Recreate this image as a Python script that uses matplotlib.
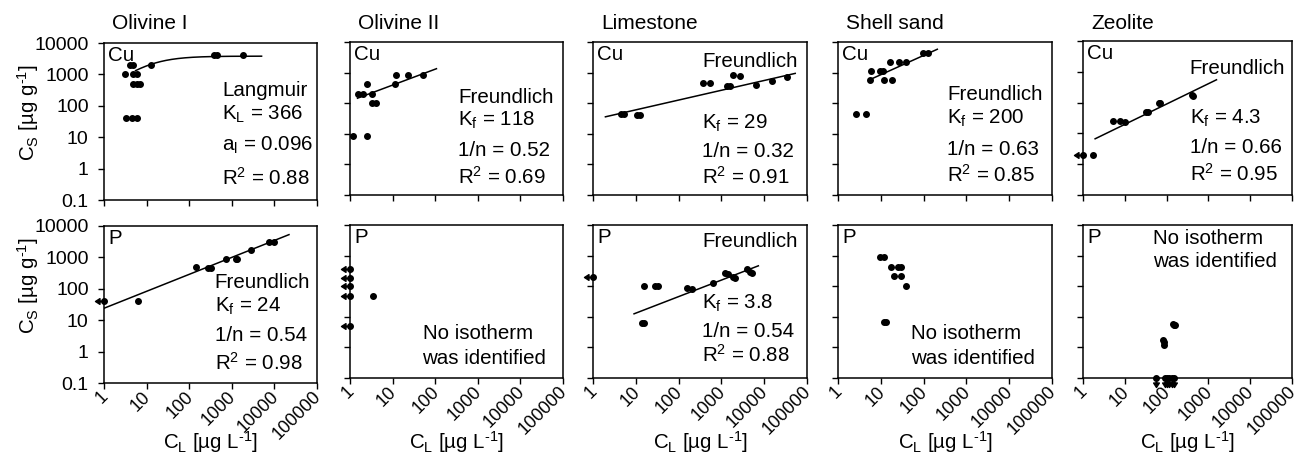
import numpy as np
import matplotlib
matplotlib.use("Agg")
import matplotlib.pyplot as plt
from matplotlib.path import Path
from matplotlib.ticker import FixedLocator, FixedFormatter, NullLocator

plt.rcParams['font.family'] = ['Liberation Sans', 'DejaVu Sans']
plt.rcParams['mathtext.fontset'] = 'custom'
plt.rcParams['mathtext.rm'] = 'Liberation Sans'
plt.rcParams['mathtext.it'] = 'Liberation Sans:italic'
plt.rcParams['mathtext.bf'] = 'Liberation Sans:bold'

# ---------------------------------------------------------------- data
materials = ["Olivine I", "Olivine II", "Limestone", "Shell sand", "Zeolite"]
elements = ["Cu", "P"]
x_ticks = [1, 10, 100, 1000, 10000, 100000]
x_tick_labels = ["1", "10", "100", "1000", "10000", "100000"]
y_ticks = [0.1, 1, 10, 100, 1000, 10000]
y_tick_labels = ["0.1", "1", "10", "100", "1000", "10000"]

# Cu: equilibrium concentration C_L [µg/L] and sorbed amount C_S [µg/g]
cu_olivine1_cl = [3.1, 4.8, 5.9, 4.8, 5.9, 7.0, 3.3, 4.5, 5.9, 4.1, 4.8, 12.7, 380, 450, 1830]
cu_olivine1_cs = [1000, 1000, 1000, 500, 500, 500, 40, 40, 40, 2000, 2000, 2000, 4000, 4000, 4000]
cu_olivine2_cl = [1.15, 2.55, 1.57, 1.98, 2.55, 3.34, 3.2, 4.06, 11.3, 12, 23.3, 50.5]
cu_olivine2_cs = [8.2, 8.2, 200, 200, 416, 200, 100, 100, 416, 820, 820, 820]
cu_limestone_cl = [4.46, 5.3, 10.4, 12.4, 380, 540, 1330, 1600, 1900, 2750, 6400, 15000, 34000]
cu_limestone_cs = [45, 45, 42, 42, 470, 470, 370, 360, 815, 760, 390, 525, 725]
cu_shellsand_cl = [2.7, 4.46, 5.7, 6.0, 9.5, 11, 12, 17.8, 16.3, 27, 38.5, 95, 130]
cu_shellsand_cs = [45, 45, 560, 1130, 1100, 1100, 560, 560, 2240, 2240, 2240, 4500, 4500]
cu_zeolite_cl = [1.72, 5.3, 7.8, 10, 32, 35, 66, 68, 405, 420]
cu_zeolite_cs = [2, 25, 25, 24, 49, 49, 100, 95, 175, 170]

# P: equilibrium concentration C_L [µg/L] and sorbed amount C_S [µg/g]
p_olivine1_cl = [6.2, 144, 270, 320, 720, 1230, 1350, 2770, 7400, 9700]
p_olivine1_cs = [40, 490, 460, 460, 910, 900, 900, 1700, 3150, 3100]
p_olivine2_cl = [3.5]
p_olivine2_cs = [48]
p_limestone_cl = [13.6, 15.6, 15.6, 28, 33, 154, 210, 650, 1220, 1460, 1900, 2100, 3900, 4700, 5200]
p_limestone_cs = [6.5, 6.5, 100, 100, 100, 85, 80, 130, 265, 250, 205, 190, 355, 300, 265]
p_shellsand_cl = [9.4, 11.8, 17.5, 25, 30, 20, 30, 38, 11.8, 13]
p_shellsand_cs = [870, 870, 415, 415, 415, 210, 210, 100, 6.7, 6.7]
p_zeolite_cl = [83, 86, 88, 144, 152, 158]
p_zeolite_cs = [1.8, 1.5, 1.2, 6.0, 5.6, 5.2]

# Values below the detection limit of C_L (left arrows) or C_S (down arrows)
cu_zeolite_cs_below_cl = [2]
p_olivine1_cs_below_cl = [40]
p_olivine2_cs_below_cl = [370, 190, 100, 49, 5]
p_limestone_cs_below_cl = [200]
p_zeolite_cl_below_cs = [56, 91, 100, 115, 132, 149]

# Isotherm parameters
cu_olivine1_langmuir = dict(KL=366, aL=0.096, R2=0.88, cl_range=(5.5, 5000))
cu_olivine2_freundlich = dict(Kf=118, inv_n=0.52, R2=0.69, cl_range=(1.5, 107))
cu_limestone_freundlich = dict(Kf=29, inv_n=0.32, R2=0.91, cl_range=(1.95, 53000))
cu_shellsand_freundlich = dict(Kf=200, inv_n=0.63, R2=0.85, cl_range=(5.3, 209))
cu_zeolite_freundlich = dict(Kf=4.3, inv_n=0.66, R2=0.95, cl_range=(1.95, 1560))
p_olivine1_freundlich = dict(Kf=24, inv_n=0.54, R2=0.98, cl_range=(1, 22000))
p_limestone_freundlich = dict(Kf=3.8, inv_n=0.54, R2=0.88, cl_range=(9.1, 7300))

# ---------------------------------------------------------------- markers
left_arrow = Path([(0, 0), (-0.55, 0), (-1, 0), (-0.5, 0.32), (-0.5, -0.32), (-1, 0)],
                  [Path.MOVETO, Path.LINETO, Path.MOVETO, Path.LINETO, Path.LINETO, Path.CLOSEPOLY])
down_arrow = Path([(0, 0), (0, -0.55), (0, -1), (0.32, -0.5), (-0.32, -0.5), (0, -1)],
                  [Path.MOVETO, Path.LINETO, Path.MOVETO, Path.LINETO, Path.LINETO, Path.CLOSEPOLY])

FS_XTICK = 13
FS_YTICK = 14
FS_TEXT = 14.8
FS_TITLE = 15
DOT = dict(ls='none', marker='o', ms=4, color='black', clip_on=False, zorder=4)
UNIT_CS = r'C$_\mathregular{S}$ [µg g$^\mathregular{\text{-1}}$]'
UNIT_CL = r'C$_\mathregular{L}$ [µg L$^\mathregular{\text{-1}}$]'


def freundlich(p):
    c = np.logspace(np.log10(p['cl_range'][0]), np.log10(p['cl_range'][1]), 200)
    return c, p['Kf'] * c ** p['inv_n']


def langmuir(p):
    c = np.logspace(np.log10(p['cl_range'][0]), np.log10(p['cl_range'][1]), 200)
    return c, p['KL'] * c / (1 + p['aL'] * c)


W, H = 1298, 455
fig = plt.figure(figsize=(W / 100, H / 100), dpi=100)

# panel frames in pixels: (left, right) per column, (top, bottom) per row/column
col_x = [(104, 317), (350, 563), (593, 807), (838, 1052), (1083, 1292)]
row_y = [[(43, 200), (42, 195), (42, 195), (42, 195), (41, 195)],
         [(226, 383), (225, 378), (225, 378), (225, 378), (225, 378)]]
XLABEL_Y = 442
TITLE_Y = 29

axes = {}
for r in range(2):
    for c, (lp, rp) in enumerate(col_x):
        top, bot = row_y[r][c]
        ax = fig.add_axes([lp / W, 1 - bot / H, (rp - lp) / W, (bot - top) / H])
        ax.set_xscale('log')
        ax.set_yscale('log')
        ax.set_xlim(1, 100000)
        ax.set_ylim(0.1, 10000)
        ax.xaxis.set_major_locator(FixedLocator(x_ticks))
        ax.yaxis.set_major_locator(FixedLocator(y_ticks))
        ax.xaxis.set_minor_locator(NullLocator())
        ax.yaxis.set_minor_locator(NullLocator())
        ax.xaxis.set_major_formatter(FixedFormatter(x_tick_labels))
        ax.yaxis.set_major_formatter(FixedFormatter(y_tick_labels))
        ax.tick_params(direction='out', length=4, width=1)
        ax.tick_params(axis='x', labelsize=FS_XTICK, pad=3)
        ax.tick_params(axis='y', labelsize=FS_YTICK, pad=7)
        for s in ax.spines.values():
            s.set_linewidth(1.1)
        if c > 0:
            ax.tick_params(axis='y', labelleft=False)
        if r == 0:
            ax.tick_params(axis='x', labelbottom=False)
            fig.text((lp + 8) / W, 1 - TITLE_Y / H, materials[c],
                     ha='left', va='baseline', fontsize=FS_TITLE)
        else:
            for lab in ax.get_xticklabels():
                lab.set_rotation(45)
                lab.set_ha('right')
                lab.set_va('center_baseline')
                lab.set_rotation_mode('anchor')
            fig.text((lp + rp) / 2 / W, 1 - XLABEL_Y / H, UNIT_CL,
                     ha='center', va='center', fontsize=FS_TEXT)
        if c == 0:
            ax.text(-0.357, 0.554 if r == 0 else 0.62, UNIT_CS,
                    transform=ax.transAxes, rotation=90, ha='center', va='center',
                    fontsize=FS_TEXT)
        ax.text(0.02, 0.92, elements[r], transform=ax.transAxes, ha='left',
                va='center', fontsize=FS_TEXT)
        axes[(r, c)] = ax

# ---------------------------------------------------------------- scatter points
points = [
    ((0, 0), cu_olivine1_cl, cu_olivine1_cs),
    ((0, 1), cu_olivine2_cl, cu_olivine2_cs),
    ((0, 2), cu_limestone_cl, cu_limestone_cs),
    ((0, 3), cu_shellsand_cl, cu_shellsand_cs),
    ((0, 4), cu_zeolite_cl, cu_zeolite_cs),
    ((1, 0), p_olivine1_cl, p_olivine1_cs),
    ((1, 1), p_olivine2_cl, p_olivine2_cs),
    ((1, 2), p_limestone_cl, p_limestone_cs),
    ((1, 3), p_shellsand_cl, p_shellsand_cs),
    ((1, 4), p_zeolite_cl, p_zeolite_cs),
]
for key, xs, ys in points:
    axes[key].plot(xs, ys, **DOT)

left_censored = [
    ((0, 4), cu_zeolite_cs_below_cl),
    ((1, 0), p_olivine1_cs_below_cl),
    ((1, 1), p_olivine2_cs_below_cl),
    ((1, 2), p_limestone_cs_below_cl),
]
for key, ys in left_censored:
    xs = [1] * len(ys)
    axes[key].plot(xs, ys, **DOT)
    axes[key].plot(xs, ys, ls='none', marker=left_arrow, ms=13, mew=1,
                   color='black', clip_on=False, zorder=4)

xs = p_zeolite_cl_below_cs
ys = [0.1] * len(xs)
axes[(1, 4)].plot(xs, ys, **DOT)
axes[(1, 4)].plot(xs, ys, ls='none', marker=down_arrow, ms=13, mew=1,
                  color='black', clip_on=False, zorder=4)

# ---------------------------------------------------------------- isotherms
LINE = dict(color='black', lw=1.1, zorder=3)
c_, q_ = langmuir(cu_olivine1_langmuir)
axes[(0, 0)].plot(c_, q_, **LINE)
for key, p in [((0, 1), cu_olivine2_freundlich), ((0, 2), cu_limestone_freundlich),
               ((0, 3), cu_shellsand_freundlich), ((0, 4), cu_zeolite_freundlich),
               ((1, 0), p_olivine1_freundlich), ((1, 2), p_limestone_freundlich)]:
    c_, q_ = freundlich(p)
    axes[key].plot(c_, q_, **LINE)


def label(ax, x, y, s, ha='left'):
    ax.text(x, y, s, transform=ax.transAxes, ha=ha, va='center', fontsize=FS_TEXT)


def freundlich_text(ax, x, ys, p):
    label(ax, x, ys[0], 'Freundlich')
    label(ax, x, ys[1], r'K$_\mathregular{f}$ = %g' % p['Kf'])
    label(ax, x, ys[2], '1/n = %.2f' % p['inv_n'])
    label(ax, x, ys[3], r'R$^\mathregular{2}$ = %.2f' % p['R2'])


p = cu_olivine1_langmuir
ax = axes[(0, 0)]
label(ax, 0.554, 0.70, 'Langmuir')
label(ax, 0.554, 0.548, r'K$_\mathregular{L}$ = %g' % p['KL'])
label(ax, 0.554, 0.35, r'a$_\mathregular{l}$ = %g' % p['aL'])
label(ax, 0.554, 0.14, r'R$^\mathregular{2}$ = %.2f' % p['R2'])

freundlich_text(axes[(0, 1)], 0.507, [0.64, 0.485, 0.29, 0.12], cu_olivine2_freundlich)
freundlich_text(axes[(0, 2)], 0.51, [0.87, 0.47, 0.285, 0.12], cu_limestone_freundlich)
freundlich_text(axes[(0, 3)], 0.51, [0.66, 0.50, 0.30, 0.13], cu_shellsand_freundlich)
freundlich_text(axes[(0, 4)], 0.51, [0.82, 0.50, 0.31, 0.14], cu_zeolite_freundlich)
freundlich_text(axes[(1, 0)], 0.52, [0.64, 0.49, 0.305, 0.13], p_olivine1_freundlich)
freundlich_text(axes[(1, 2)], 0.51, [0.89, 0.49, 0.305, 0.15], p_limestone_freundlich)

for key, y1, y2 in [((1, 1), 0.29, 0.13), ((1, 3), 0.29, 0.13), ((1, 4), 0.91, 0.76)]:
    label(axes[key], 0.60, y1, 'No isotherm', ha='center')
    label(axes[key], 0.63, y2, 'was identified', ha='center')

fig.savefig('out.png', dpi=100)
